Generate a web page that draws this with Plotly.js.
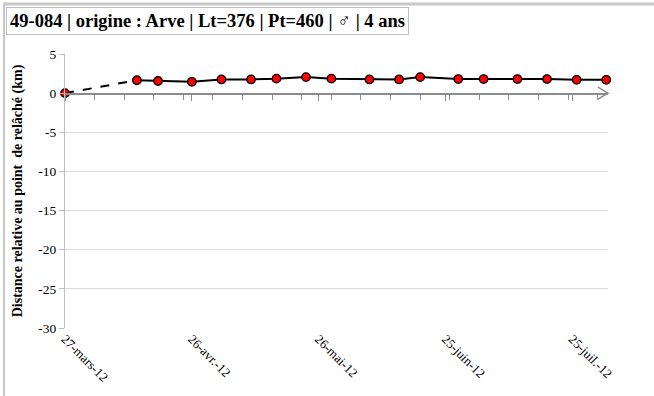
<!DOCTYPE html>
<html>
<head>
<meta charset="utf-8">
<script src="https://cdn.plot.ly/plotly-3.0.1.min.js"></script>
<style>
html,body{margin:0;padding:0;background:#fff;}
#chart{width:654px;height:396px;}
</style>
</head>
<body>
<div id="chart"></div>
<script>
// Data
const chartTitle = "49-084 | origine : Arve | Lt=376 | Pt=460 | ♂ | 4 ans";
const yTitle = "Distance relative au point  de relâché (km)";
const dates = ['2012-03-27','2012-04-13','2012-04-18','2012-04-26','2012-05-03','2012-05-10','2012-05-16','2012-05-23','2012-05-29','2012-06-07','2012-06-14','2012-06-19','2012-06-28','2012-07-04','2012-07-12','2012-07-19','2012-07-26','2012-08-02'];
const distances = [0,1.65,1.55,1.45,1.75,1.75,1.85,2.05,1.85,1.75,1.75,2.05,1.8,1.8,1.8,1.8,1.7,1.7];
const tickDates = ['2012-03-27','2012-04-26','2012-05-26','2012-06-25','2012-07-25'];
const tickLabels = ['27-mars-12','26-avr.-12','26-mai-12','25-juin-12','25-juil.-12'];
const yTicks = [5,0,-5,-10,-15,-20,-25,-30];

const xRange = ['2012-03-27', '2012-08-02 10:00'];
const yRange = [-30, 5];
const serif = 'Liberation Serif, Times New Roman, serif';
const axisGray = '#8c8c8c';

const marker = {color:'#ff0000', size:8.5, line:{color:'#000', width:1.3}};

const traces = [
  { // dashed segment: release -> first detection
    x: dates.slice(0,2), y: distances.slice(0,2), type:'scatter', mode:'lines',
    line:{color:'#000', width:2, dash:'dash'}, hoverinfo:'skip', showlegend:false, cliponaxis:false
  },
  { // solid tracking line
    x: dates.slice(1), y: distances.slice(1), type:'scatter', mode:'lines',
    line:{color:'#000', width:2}, hoverinfo:'skip', showlegend:false, cliponaxis:false
  },
  { // markers
    x: dates, y: distances, type:'scatter', mode:'markers',
    marker: marker, showlegend:false, cliponaxis:false
  },
  { // invisible trace for the axis drawn at y = 0
    x: xRange, y: [0,0], xaxis:'x2', yaxis:'y', type:'scatter', mode:'lines',
    line:{width:0}, opacity:0, hoverinfo:'skip', showlegend:false
  }
];

// pixel geometry helpers for paper coords
const L = 65, R = 46, T = 54, B = 68, W = 654, H = 396;
const pw = W - L - R, ph = H - T - B;
const px = v => (v - L) / pw;
const py = v => (H - B - v) / ph;

const layout = {
  width: W, height: H,
  margin: {l:L, r:R, t:T, b:B, pad:0},
  paper_bgcolor:'#fff', plot_bgcolor:'#fff',
  font: {family: serif, color:'#000', size:13},
  xaxis: {
    type:'date', range: xRange, tickmode:'array', tickvals: tickDates, ticktext: tickLabels,
    tickangle: 45, showgrid:false, zeroline:false, showline:false, ticks:'',
    tickfont:{family:serif, size:13, color:'#000'}
  },
  xaxis2: {
    type:'date', range: xRange, overlaying:'x', anchor:'free', position: (0 - yRange[0]) / (yRange[1] - yRange[0]),
    showline:true, linecolor:axisGray, linewidth:1.5, showgrid:false, zeroline:false,
    showticklabels:false, tickmode:'array', tickvals: tickDates, ticks:'outside', ticklen:6, tickcolor:axisGray, tickwidth:1,
    minor: {tickmode:'linear', tick0:'2012-03-27', dtick: 7*86400000, ticks:'outside', ticklen:5, tickcolor:axisGray, tickwidth:1, showgrid:false}
  },
  yaxis: {
    range: yRange, tickmode:'array', tickvals: yTicks, ticktext: yTicks.map(String),
    showgrid:true, gridcolor:'#d9d9d9', gridwidth:1, zeroline:false,
    showline:true, linecolor:'#bfbfbf', linewidth:1, ticks:'outside', ticklen:5, tickcolor:'#bfbfbf',
    tickfont:{family:serif, size:13.5, color:'#000'},
    title:{text: yTitle, font:{family:serif, size:14, color:'#000', weight:'bold'}, standoff: 12}
  },
  shapes: [
    // chart frame (top and left)
    {type:'line', xref:'paper', yref:'paper', x0:px(3), x1:px(654), y0:py(4), y1:py(4), line:{color:'#c8c8c8', width:3}},
    {type:'line', xref:'paper', yref:'paper', x0:px(4), x1:px(4), y0:py(4), y1:py(396), line:{color:'#c8c8c8', width:2}},
    // arrow head at end of x axis
    {type:'path', xref:'paper', yref:'y', xanchor:1, yanchor:0, xsizemode:'pixel', ysizemode:'pixel',
     path:'M -10 6 L 0 0 L -10 -6', line:{color:axisGray, width:1.5}}
  ],
  annotations: [
    {text: '<b>' + chartTitle + '</b>', xref:'paper', yref:'paper', x: px(6), y: py(7), xanchor:'left', yanchor:'top',
     showarrow:false, font:{family:serif, size:18.5, color:'#000'}, bgcolor:'#fff', bordercolor:'#bfbfbf', borderwidth:1, borderpad:3}
  ]
};

Plotly.newPlot('chart', traces, layout, {displayModeBar:false, staticPlot:true});
</script>
</body>
</html>
